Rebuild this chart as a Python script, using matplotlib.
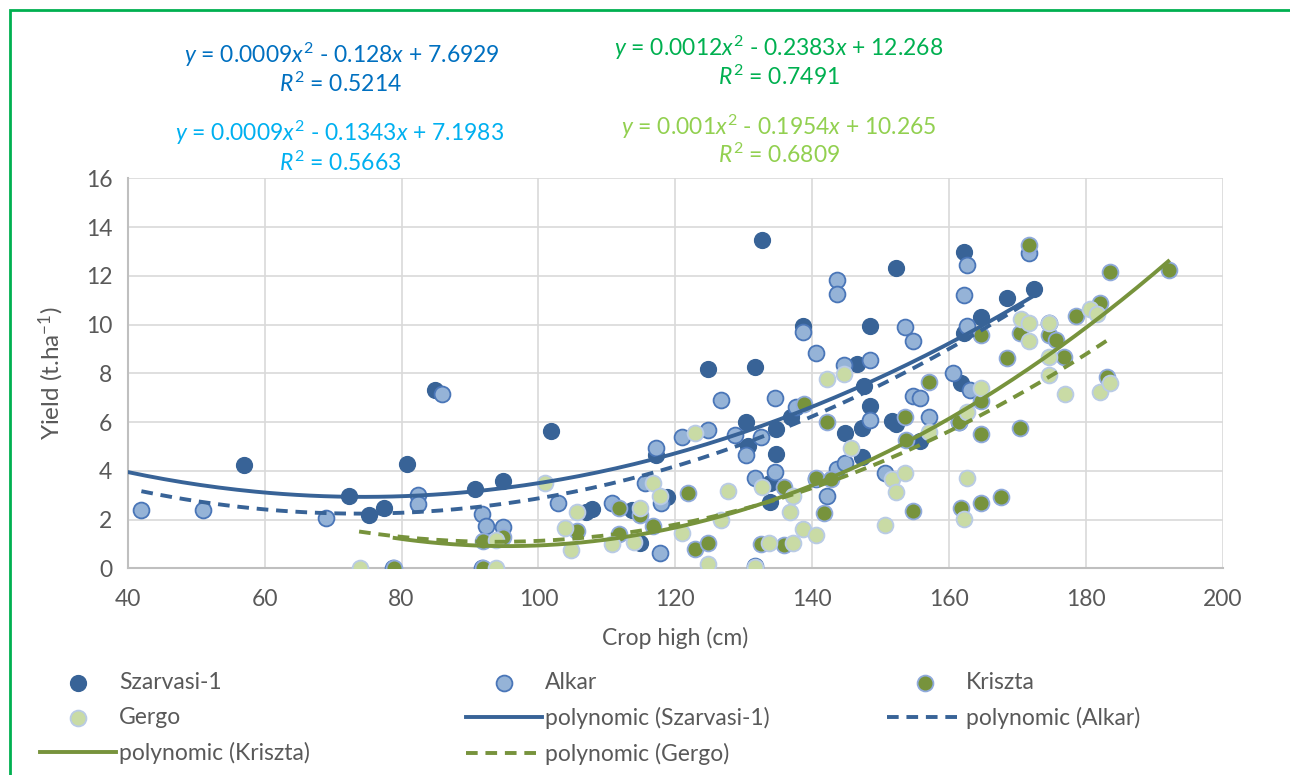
import numpy as np
import matplotlib
matplotlib.use("Agg")
import matplotlib.pyplot as plt
from matplotlib.patches import Rectangle

plt.rcParams['font.family'] = ['Lato', 'DejaVu Sans']
plt.rcParams['mathtext.fontset'] = 'custom'
plt.rcParams['mathtext.rm'] = 'Lato'
plt.rcParams['mathtext.it'] = 'Lato:italic'

# scatter data (crop height cm, yield t/ha)
szarvasi_x = [57.0, 72.4, 75.3, 77.4, 80.8, 84.9, 90.8, 94.8, 101.8, 106.9, 107.8, 113.6, 114.9,
              117.2, 118.8, 124.7, 130.3, 130.6, 131.7, 132.7, 133.8, 133.8, 134.7, 134.7, 136.9,
              138.6, 144.8, 146.6, 147.2, 147.2, 147.6, 148.5, 148.5, 151.6, 152.2, 152.2, 155.7,
              161.7, 162.1, 162.1, 164.6, 168.5, 172.4]
szarvasi_y = [4.22, 2.95, 2.17, 2.48, 4.27, 7.33, 3.25, 3.58, 5.64, 2.31, 2.44, 2.38, 1.04,
              4.66, 2.93, 8.17, 6.01, 5.0, 8.25, 13.46, 3.5, 2.73, 5.72, 4.7, 6.2,
              9.93, 5.55, 8.38, 5.75, 4.57, 7.48, 9.95, 6.65, 6.05, 12.31, 5.92, 5.22,
              7.6, 12.97, 9.67, 10.33, 11.09, 11.45]

alkar_x = [42.0, 51.0, 69.0, 78.8, 82.4, 82.4, 85.9, 91.7, 91.8, 92.3, 94.8, 102.8, 110.7, 115.6,
           117.2, 117.8, 117.9, 120.9, 124.7, 126.7, 128.7, 130.3, 131.7, 131.7, 132.5, 134.6,
           134.6, 137.6, 138.6, 140.5, 140.6, 142.2, 143.6, 143.6, 143.6, 144.6, 144.8, 148.5,
           148.5, 150.6, 153.5, 154.7, 154.7, 155.7, 157.1, 160.6, 161.4, 162.1, 162.6, 162.6,
           163.1, 171.6, 174.6]
alkar_y = [2.39, 2.39, 2.06, 0.02, 3.0, 2.64, 7.15, 2.22, 0.02, 1.73, 1.7, 2.66, 2.68, 3.5,
           4.93, 0.63, 2.68, 5.38, 5.67, 6.9, 5.46, 4.65, 3.7, 0.1, 5.38, 6.98,
           3.95, 6.6, 9.7, 3.66, 8.83, 2.97, 11.83, 11.25, 4.08, 8.34, 4.31, 8.55,
           6.08, 3.91, 9.9, 9.33, 7.08, 7.0, 6.2, 8.02, 6.0, 11.2, 12.45, 9.92,
           7.33, 12.93, 10.06]

kriszta_x = [78.9, 91.9, 91.9, 94.8, 105.6, 111.8, 111.8, 114.8, 116.8, 121.8, 122.8, 124.7,
             132.5, 135.8, 135.8, 138.8, 140.6, 141.7, 142.2, 142.7, 153.5, 153.7, 154.7, 157.1,
             161.4, 161.7, 164.6, 164.6, 164.6, 164.6, 167.6, 168.5, 170.4, 170.4, 171.6, 174.6,
             175.6, 176.8, 178.5, 182.0, 183.0, 183.5, 192.1]
kriszta_y = [0.02, 0.03, 1.14, 1.28, 1.51, 2.47, 1.41, 2.2, 1.74, 3.09, 0.79, 1.04,
             1.0, 3.35, 0.96, 6.73, 3.7, 2.28, 6.0, 3.66, 6.2, 5.26, 2.35, 7.64,
             6.0, 2.47, 9.57, 6.87, 5.51, 2.68, 2.93, 8.63, 9.65, 5.76, 13.25, 9.57,
             9.36, 8.68, 10.37, 10.9, 7.85, 12.15, 12.23]

gergo_x = [73.9, 93.8, 93.8, 100.9, 103.9, 104.8, 105.6, 110.7, 114.0, 114.8, 116.8, 117.8,
           120.9, 122.8, 124.7, 126.7, 127.7, 131.7, 132.7, 133.7, 136.8, 137.2, 137.2, 138.6,
           140.6, 142.2, 144.6, 145.6, 150.6, 151.6, 152.2, 153.5, 157.1, 162.1, 162.6, 162.6,
           164.6, 170.5, 171.6, 171.6, 174.6, 174.6, 174.6, 176.9, 180.6, 181.6, 182.0, 183.5]
gergo_y = [0.03, 1.15, 0.03, 3.5, 1.65, 0.75, 2.31, 1.0, 1.09, 2.47, 3.5, 2.97,
           1.45, 5.56, 0.18, 1.98, 3.17, 0.05, 3.35, 1.04, 2.32, 2.97, 1.04, 1.61,
           1.37, 7.76, 7.98, 4.94, 1.78, 3.65, 3.14, 3.92, 5.59, 2.02, 6.42, 3.69,
           7.4, 10.23, 10.06, 9.33, 10.06, 8.68, 7.93, 7.16, 10.64, 10.43, 7.24, 7.6]

# trendline coefficients (a, b, c) as drawn, and their x ranges
szarvasi_trend = [0.00086, -0.128, 7.6929]
alkar_trend = [0.00091, -0.1343, 7.1983]
kriszta_trend = [0.00125, -0.2383, 12.268]
gergo_trend = [0.00104, -0.1954, 10.265]
szarvasi_range = [40, 172.6]
alkar_range = [42, 171.8]
kriszta_range = [79, 192]
gergo_range = [73.8, 183.8]

eq_texts = [r"$y$ = 0.0009$x^2$ - 0.128$x$ + 7.6929", r"$R^2$ = 0.5214",
            r"$y$ = 0.0009$x^2$ - 0.1343$x$ + 7.1983", r"$R^2$ = 0.5663",
            r"$y$ = 0.0012$x^2$ - 0.2383$x$ + 12.268", r"$R^2$ = 0.7491",
            r"$y$ = 0.001$x^2$ - 0.1954$x$ + 10.265", r"$R^2$ = 0.6809"]

dark_blue = '#386397'
olive = '#77933c'
grey = '#595959'
fs = 16.5

W, H = 1290, 775
fig = plt.figure(figsize=(12.9, 7.75), dpi=100)
ax = fig.add_axes([127.7 / W, 1 - 568.3 / H, (1223 - 127.7) / W, (568.3 - 178.3) / H])

ms = 130
s1 = ax.scatter(szarvasi_x, szarvasi_y, s=ms, c=dark_blue, edgecolors=dark_blue, linewidths=1.0, zorder=3)
s2 = ax.scatter(alkar_x, alkar_y, s=ms, c='#95b3d7', edgecolors='#4a76b8', linewidths=1.3, zorder=3)
s3 = ax.scatter(kriszta_x, kriszta_y, s=ms, c=olive, edgecolors='#8faadc', linewidths=1.3, zorder=3)
s4 = ax.scatter(gergo_x, gergo_y, s=ms, c='#c9dba5', edgecolors='#b9cbe6', linewidths=1.3, zorder=3)


def trend(coef, rng):
    xx = np.linspace(rng[0], rng[1], 200)
    return xx, np.polyval(coef, xx)


lw = 2.8
xx, yy = trend(szarvasi_trend, szarvasi_range)
l1, = ax.plot(xx, yy, color=dark_blue, lw=lw, zorder=4)
xx, yy = trend(alkar_trend, alkar_range)
l2, = ax.plot(xx, yy, color=dark_blue, lw=lw, ls=(0, (3, 2)), zorder=4)
xx, yy = trend(kriszta_trend, kriszta_range)
l3, = ax.plot(xx, yy, color=olive, lw=lw, zorder=4)
xx, yy = trend(gergo_trend, gergo_range)
l4, = ax.plot(xx, yy, color=olive, lw=lw, ls=(0, (3, 2)), zorder=4)

ax.set_xlim(40, 200)
ax.set_ylim(0, 16)
ax.set_xticks(range(40, 201, 20))
ax.set_yticks(range(0, 17, 2))
ax.grid(True, color='#d9d9d9', lw=1.2, zorder=0)
ax.set_axisbelow(True)
for side in ['top', 'right']:
    ax.spines[side].set_visible(False)
for side in ['left', 'bottom']:
    ax.spines[side].set_color('#bfbfbf')
    ax.spines[side].set_linewidth(1.5)
ax.tick_params(length=0, labelsize=fs, colors=grey)
ax.tick_params(axis='x', pad=15)
ax.tick_params(axis='y', pad=11)
ax.set_xlabel('Crop high (cm)', fontsize=fs, color=grey, labelpad=12)
ax.set_ylabel('Yield (t.ha$^{-1}$)', fontsize=17.5, color=grey, labelpad=14)

# trendline equations
eq_pos = [(342, 55), (340, 84), (340, 133), (340, 163), (779, 48), (779, 77), (779, 127), (779, 155)]
eq_colors = ['#0070c0', '#0070c0', '#00b0f0', '#00b0f0', '#00b050', '#00b050', '#92d050', '#92d050']
for t, (px, py), c in zip(eq_texts, eq_pos, eq_colors):
    fig.text(px / W, 1 - py / H, t, color=c, fontsize=fs, ha='center', va='center')

# legend, three columns
cols = [([s1, s4, l3], ['Szarvasi-1', 'Gergo', 'polynomic (Kriszta)'], 40),
        ([s2, l1, l4], ['Alkar', 'polynomic (Szarvasi-1)', 'polynomic (Gergo)'], 466),
        ([s3, l2], ['Kriszta', 'polynomic (Alkar)'], 887)]
for hs, labs, px in cols:
    leg = fig.legend(hs, labs, loc='upper left', bbox_to_anchor=(px / W, 1 - 672 / H),
                     frameon=False, borderpad=0, fontsize=fs, handlelength=3.3,
                     handletextpad=0.15, labelspacing=0.6, scatterpoints=1, borderaxespad=0)
    for t in leg.get_texts():
        t.set_color(grey)

fig.patches.append(Rectangle((10 / W, -0.1), 1.2, 1 - 10 / H + 0.1, transform=fig.transFigure,
                             fill=False, edgecolor='#00b050', lw=2))

fig.savefig('out.png', dpi=100)
